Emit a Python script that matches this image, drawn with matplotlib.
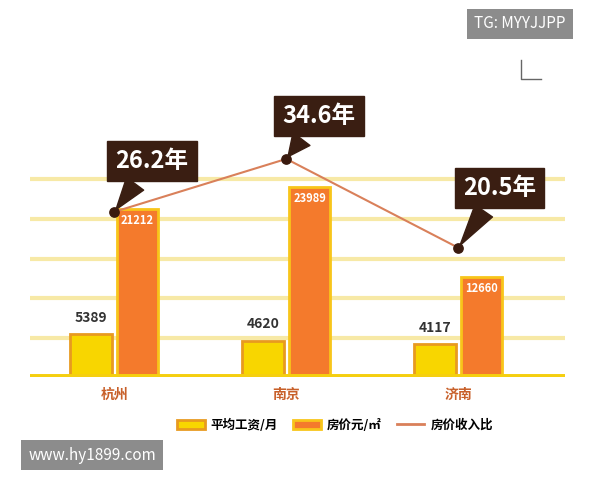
import matplotlib
matplotlib.use("Agg")
import matplotlib.pyplot as plt
from matplotlib.patches import Patch
from matplotlib.lines import Line2D

plt.rcParams['font.family'] = ['Noto Sans CJK SC', 'DejaVu Sans']

cities = ["杭州", "南京", "济南"]
salary = [5389, 4620, 4117]
price = [21212, 23989, 12660]
ratio = [26.2, 34.6, 20.5]
ratio_labels = ["26.2年", "34.6年", "20.5年"]

fig = plt.figure(figsize=(6, 4.8), dpi=100)
fig.patch.set_facecolor("white")
ax = fig.add_axes([30/600, 1-377/480, 535/600, 237/480])
ax.set_xlim(-0.49, 2.62)
ax.set_ylim(0, 30000)
for s in ax.spines.values():
    s.set_visible(False)
ax.set_xticks([]); ax.set_yticks([])
for g in [5000, 10000, 15000, 20000, 25000]:
    ax.axhline(g, color="#f7e9a6", lw=3, zorder=0)
ax.axhline(0, color="#f5cf10", lw=5, zorder=3)

x = list(range(len(cities)))
ax.bar([i - 0.135 for i in x], salary, width=0.24, color="#f8d600",
       edgecolor="#e89a20", lw=2, zorder=2)
ax.bar([i + 0.135 for i in x], price, width=0.24, color="#f47a2c",
       edgecolor="#f8c51a", lw=2, zorder=2)
for i in x:
    ax.text(i - 0.135, salary[i] + 1200, str(salary[i]), ha="center", va="bottom",
            fontsize=10, color="#333333", fontweight="bold")
    ax.text(i + 0.135, price[i] - 600, str(price[i]), ha="center", va="top",
            fontsize=8, color="white", fontweight="bold")
    ax.text(i, -1400, cities[i], ha="center", va="top", fontsize=10,
            color="#c8602a", fontweight="bold", clip_on=False)

ax2 = ax.twinx()
ax2.set_ylim(0, 37.6)
ax2.set_axis_off()
ax2.plot(x, ratio, color="#d9805a", lw=1.5, zorder=4)
ax2.scatter(x, ratio, color="#3a1a0e", s=45, zorder=5)
offsets = [(0.22, 8.1), (0.19, 6.8), (0.24, 9.5)]
for i in x:
    ax2.annotate(ratio_labels[i], xy=(x[i], ratio[i]),
                 xytext=(x[i] + offsets[i][0], ratio[i] + offsets[i][1]),
                 ha="center", va="center", fontsize=17, fontweight="bold",
                 color="white", annotation_clip=False, zorder=6,
                 bbox=dict(boxstyle="square,pad=0.35", fc="#3a1e12", ec="#3a1e12"),
                 arrowprops=dict(arrowstyle="wedge,tail_width=0.9,shrink_factor=0.5",
                                 fc="#3a1e12", ec="#3a1e12"))

handles = [Patch(fc="#f8d600", ec="#e89a20", lw=2),
           Patch(fc="#f47a2c", ec="#f8c51a", lw=2),
           Line2D([0], [0], color="#d9805a", lw=2)]
fig.legend(handles, ["平均工资/月", "房价元/㎡", "房价收入比"], loc="center",
           bbox_to_anchor=(335/600, 1-425/480), ncol=3, frameon=False,
           prop=dict(size=9, weight="bold"), handlelength=2.2, columnspacing=1.2,
           handletextpad=0.5)

fig.text(520/600, 1-24/480, "TG: MYYJJPP", ha="center", va="center", fontsize=11,
         color="white", bbox=dict(boxstyle="square,pad=0.45", fc="#8c8c8c", ec="none"))
fig.text(92/600, 1-455/480, "www.hy1899.com", ha="center", va="center", fontsize=11,
         color="white", bbox=dict(boxstyle="square,pad=0.45", fc="#8c8c8c", ec="none"))
fig.add_artist(Line2D([521/600, 521/600, 541/600], [1-60/480, 1-79/480, 1-79/480],
                      color="#666666", lw=1))

fig.savefig("out.png", dpi=100)
